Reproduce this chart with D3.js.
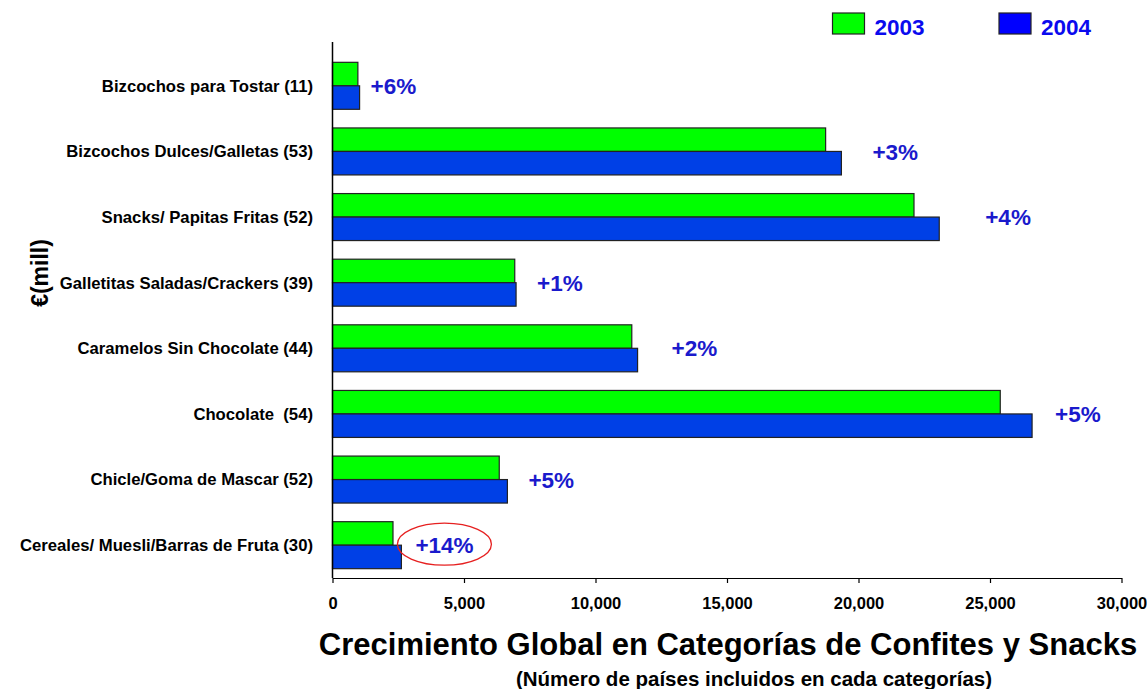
<!DOCTYPE html>
<html>
<head>
<meta charset="utf-8">
<script src="https://cdn.jsdelivr.net/npm/d3@7/dist/d3.min.js"></script>
<style>
  html, body { margin: 0; padding: 0; background: #fff; overflow: hidden; }
  svg { display: block; font-family: "Liberation Sans", Arial, sans-serif; }
</style>
</head>
<body>
<svg id="chart" width="1147" height="689"></svg>
<script>
// Categories (number of countries in brackets)
const categories = [
  "Bizcochos para Tostar (11)",
  "Bizcochos Dulces/Galletas (53)",
  "Snacks/ Papitas Fritas (52)",
  "Galletitas Saladas/Crackers (39)",
  "Caramelos Sin Chocolate (44)",
  "Chocolate  (54)",
  "Chicle/Goma de Mascar (52)",
  "Cereales/ Muesli/Barras de Fruta (30)"
];
// Sales, € million
const values2003 = [965, 18750, 22110, 6930, 11380, 25390, 6340, 2300];
const values2004 = [1030, 19350, 23070, 6980, 11600, 26600, 6650, 2620];
// Growth 2003 → 2004
const growthLabels = ["+6%", "+3%", "+4%", "+1%", "+2%", "+5%", "+5%", "+14%"];
const seriesNames = ["2003", "2004"];
const xTicks = [0, 5000, 10000, 15000, 20000, 25000, 30000];

// Horizontal gap (px) between each 2004 bar end and its growth label
const labelGap = [11, 31, 46, 21, 34, 23, 21, 14];

const svg = d3.select("#chart");
const colors = { "2003": "#00FF00", "2004": "#0040E6" };
const legendColors = { "2003": "#00FF00", "2004": "#0000FF" };

const x = d3.scaleLinear().domain([0, 30000]).range([332.5, 1121.5]);
const y = d3.scaleBand().domain(categories).range([53, 578])
  .paddingInner(0.284).paddingOuter(0.142);
const sub = d3.scaleBand().domain(seriesNames).range([0, y.bandwidth()]);

// Bars
const groups = svg.append("g").selectAll("g")
  .data(categories)
  .join("g")
  .attr("transform", d => `translate(0,${y(d)})`);

groups.each(function (cat, i) {
  const g = d3.select(this);
  const vals = { "2003": values2003[i], "2004": values2004[i] };
  seriesNames.forEach(s => {
    g.append("rect")
      .attr("x", x(0))
      .attr("y", sub(s))
      .attr("width", x(vals[s]) - x(0))
      .attr("height", sub.bandwidth())
      .attr("fill", colors[s])
      .attr("stroke", "#222")
      .attr("stroke-width", 1.2);
  });
});

// Category labels
svg.append("g").selectAll("text")
  .data(categories)
  .join("text")
  .attr("x", 313)
  .attr("y", d => y(d) + y.bandwidth() / 2)
  .attr("dy", "0.35em")
  .attr("text-anchor", "end")
  .attr("font-size", 16.7)
  .attr("font-weight", "bold")
  .attr("fill", "#000")
  .style("white-space", "pre")
  .text(d => d);

// Growth labels
svg.append("g").selectAll("text")
  .data(categories)
  .join("text")
  .attr("x", (d, i) => x(values2004[i]) + labelGap[i])
  .attr("y", d => y(d) + y.bandwidth() / 2)
  .attr("dy", "0.36em")
  .attr("font-size", 22.5)
  .attr("font-weight", "bold")
  .attr("fill", "#1A1ACC")
  .text((d, i) => growthLabels[i]);

// Highlight around the largest growth
const last = categories.length - 1;
svg.append("ellipse")
  .attr("cx", x(values2004[last]) + labelGap[last] + 29)
  .attr("cy", y(categories[last]) + y.bandwidth() / 2 - 1)
  .attr("rx", 47)
  .attr("ry", 21)
  .attr("fill", "none")
  .attr("stroke", "#E62020")
  .attr("stroke-width", 1.3);

// X axis
const xAxis = svg.append("g")
  .attr("transform", "translate(0,578)")
  .call(d3.axisBottom(x).tickValues(xTicks).tickSize(5).tickSizeOuter(0)
    .tickFormat(d3.format(",")));
xAxis.select(".domain").attr("stroke", "#000").attr("stroke-width", 1.2);
xAxis.selectAll(".tick line").attr("stroke", "#000").attr("stroke-width", 1.2);
xAxis.selectAll(".tick text")
  .attr("y", 31)
  .attr("dy", 0)
  .attr("font-size", 16.5)
  .attr("font-weight", "bold")
  .attr("font-family", "'Liberation Sans', Arial, sans-serif")
  .attr("fill", "#000");

// Y axis line
svg.append("line")
  .attr("x1", x(0)).attr("x2", x(0))
  .attr("y1", 42).attr("y2", 578)
  .attr("stroke", "#000").attr("stroke-width", 1.5);

// Y axis title
svg.append("text")
  .attr("transform", "translate(48,273) rotate(-90)")
  .attr("text-anchor", "middle")
  .attr("font-size", 23)
  .attr("font-weight", "bold")
  .attr("fill", "#000")
  .text("€(mill)");

// Legend
const legendX = { "2003": 832.5, "2004": 999 };
seriesNames.forEach(s => {
  svg.append("rect")
    .attr("x", legendX[s]).attr("y", 13)
    .attr("width", 32).attr("height", 21)
    .attr("fill", legendColors[s])
    .attr("stroke", "#222").attr("stroke-width", 1.2);
  svg.append("text")
    .attr("x", legendX[s] + 42).attr("y", 35)
    .attr("font-size", 22.5)
    .attr("font-weight", "bold")
    .attr("fill", "#0A0AEE")
    .text(s);
});

// Titles
svg.append("text")
  .attr("x", 728).attr("y", 655)
  .attr("text-anchor", "middle")
  .attr("font-size", 31)
  .attr("font-weight", "bold")
  .attr("fill", "#000")
  .text("Crecimiento Global en Categorías de Confites y Snacks");

svg.append("text")
  .attr("x", 754).attr("y", 686)
  .attr("text-anchor", "middle")
  .attr("font-size", 20.5)
  .attr("font-weight", "bold")
  .attr("fill", "#000")
  .text("(Número de países incluidos en cada categorías)");
</script>
</body>
</html>
